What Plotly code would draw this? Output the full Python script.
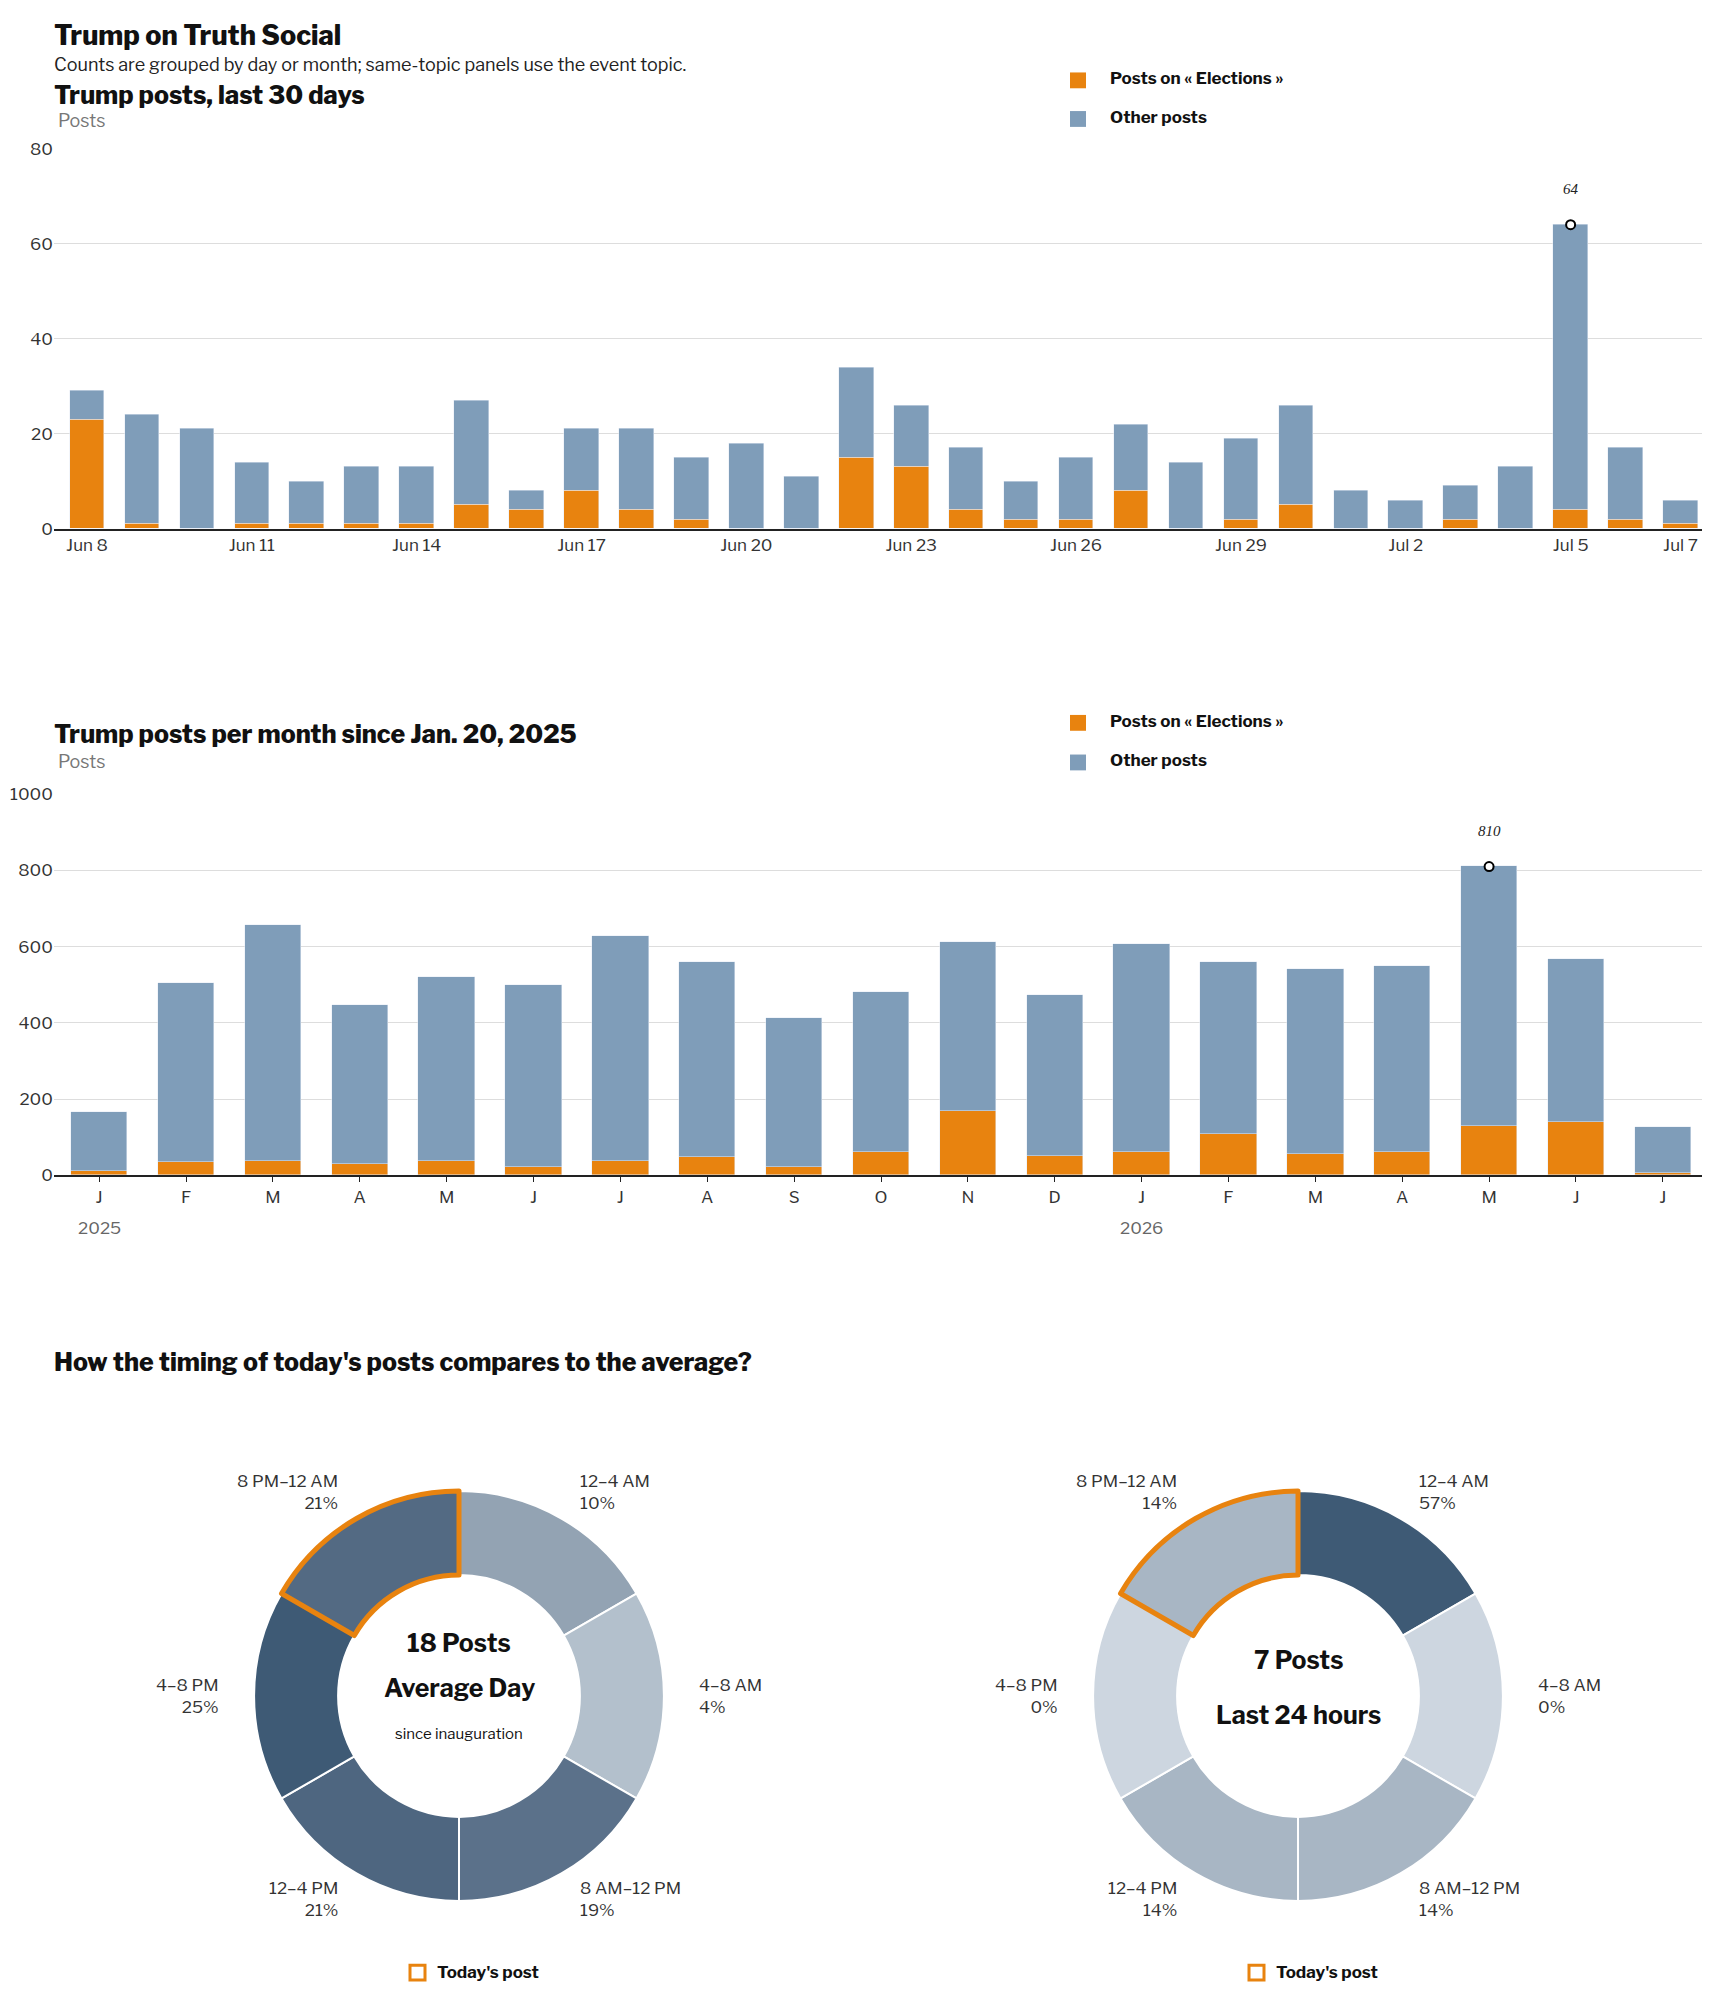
import plotly.graph_objects as go

W, H = 1710, 1993
S = 1710 / 1350
ORANGE = "#e8830f"
BLUE = "#7f9db9"
FONT = "Libre Franklin, Inter, Roboto, sans-serif"

days = ["Jun 8","Jun 9","Jun 10","Jun 11","Jun 12","Jun 13","Jun 14","Jun 15","Jun 16","Jun 17",
        "Jun 18","Jun 19","Jun 20","Jun 21","Jun 22","Jun 23","Jun 24","Jun 25","Jun 26","Jun 27",
        "Jun 28","Jun 29","Jun 30","Jul 1","Jul 2","Jul 3","Jul 4","Jul 5","Jul 6","Jul 7"]
day_total = [29,24,21,14,10,13,13,27,8,21,21,15,18,11,34,26,17,10,15,22,14,19,26,8,6,9,13,64,17,6]
day_elect = [23,1,0,1,1,1,1,5,4,8,4,2,0,0,15,13,4,2,2,8,0,2,5,0,0,2,0,4,2,1]
day_ticks = ["Jun 8","Jun 11","Jun 14","Jun 17","Jun 20","Jun 23","Jun 26","Jun 29","Jul 2","Jul 5","Jul 7"]

months = ["J","F","M","A","M","J","J","A","S","O","N","D","J","F","M","A","M","J","J"]
mon_total = [165,505,655,447,520,500,628,560,413,480,612,473,607,558,540,550,810,568,125]
mon_elect = [10,35,38,28,38,22,38,48,22,62,168,50,62,108,55,62,128,140,5]
years = [(0, "2025"), (12, "2026")]

slots = ["12–4 AM","4–8 AM","8 AM–12 PM","12–4 PM","4–8 PM","8 PM–12 AM"]
avg_pct = [10,4,19,21,25,21]
avg_colors = ["#93a3b3","#b3c0cc","#5b718a","#4e6680","#3e5a75","#536a83"]
today_pct = [57,0,14,14,0,14]
today_colors = ["#3e5a75","#cdd6e0","#a8b6c4","#a8b6c4","#cdd6e0","#a8b6c4"]
today_slot = 5

def py(p): return 1 - p / H
def px(p): return p / W

fig = go.Figure()
di = list(range(len(days)))
fig.add_bar(x=di, y=day_elect, marker_color=ORANGE, width=0.63, xaxis="x", yaxis="y")
fig.add_bar(x=di, y=[t - e for t, e in zip(day_total, day_elect)], marker_color=BLUE, width=0.63, xaxis="x", yaxis="y")
mi = list(range(len(months)))
fig.add_bar(x=mi, y=mon_elect, marker_color=ORANGE, width=0.65, xaxis="x2", yaxis="y2")
fig.add_bar(x=mi, y=[t - e for t, e in zip(mon_total, mon_elect)], marker_color=BLUE, width=0.65, xaxis="x2", yaxis="y2")

dmax = day_total.index(max(day_total)); mmax = mon_total.index(max(mon_total))
fig.add_scatter(x=[dmax], y=[day_total[dmax]], mode="markers", xaxis="x", yaxis="y",
                marker=dict(size=9, color="white", line=dict(color="black", width=2)))
fig.add_scatter(x=[mmax], y=[mon_total[mmax]], mode="markers", xaxis="x2", yaxis="y2",
                marker=dict(size=9, color="white", line=dict(color="black", width=2)))
ann = []
ann.append(dict(x=dmax, y=day_total[dmax], xref="x", yref="y", text=str(day_total[dmax]), showarrow=False,
                yshift=36, font=dict(family="Liberation Serif", size=15, color="#222", style="italic")))
ann.append(dict(x=mmax, y=mon_total[mmax], xref="x2", yref="y2", text=str(mon_total[mmax]), showarrow=False,
                yshift=36, font=dict(family="Liberation Serif", size=15, color="#222", style="italic")))

for i, lab in years:
    ann.append(dict(x=i, y=py(1222), xref="x2", yref="paper", text=lab, showarrow=False,
                    font=dict(family=FONT, size=17, color="#666")))

def t(xp, yp, text, size, color="#111", weight=None, ya="middle"):
    ann.append(dict(x=px(xp), y=py(yp), xref="paper", yref="paper", text=text, showarrow=False,
                    xanchor="left", yanchor=ya, borderpad=0,
                    font=dict(family=FONT, size=size, color=color, weight=weight)))

# donuts
CY = 1695
for k, (vals, cols, cx) in enumerate([(avg_pct, avg_colors, 451), (today_pct, today_colors, 1290)]):
    lc = ["white"] * 6; lw = [2] * 6
    lc[today_slot] = ORANGE; lw[today_slot] = 5
    fig.add_pie(values=[1] * 6, labels=slots, marker=dict(colors=cols, line=dict(color=lc, width=lw)),
                hole=0.59, sort=False, direction="clockwise", rotation=0, textinfo="none",
                showlegend=False, domain=dict(x=[px(cx - 207), px(cx + 207)], y=[py(CY + 207), py(CY - 207)]))
    offs = [(94, -163, "left"), (188, 0, "left"), (94, 162, "left"),
            (-94, 162, "right"), (-188, 0, "right"), (-94, -163, "right")]
    for j, (dx, dy, xa) in enumerate(offs):
        ann.append(dict(x=px(cx + dx * S), y=py(CY + dy * S), xref="paper", yref="paper",
                        text=f"{slots[j]}<br>{vals[j]}%", showarrow=False, xanchor=xa, align=xa, yanchor="middle",
                        font=dict(family=FONT, size=17, color="#333")))
    fig.add_shape(type="rect", xref="paper", yref="paper", x0=px(cx - 49), x1=px(cx - 34),
                  y0=py(1982), y1=py(1967), line=dict(color=ORANGE, width=3), fillcolor="white")
    ann.append(dict(x=px(cx - 24), y=py(1974), xref="paper", yref="paper", text="<b>Today's post</b>",
                    showarrow=False, xanchor="left", yanchor="middle", font=dict(family=FONT, size=17, color="#111")))

t(45, 0, "Trump on Truth Social", 27, weight=800, ya="top")
t(45, 47, "Counts are grouped by day or month; same-topic panels use the event topic.", 18, "#222")
t(45, 78, "Trump posts, last 30 days", 25, weight=800)
t(49, 104, "Posts", 18, "#777")
t(45, 723, "Trump posts per month since Jan. 20, 2025", 25, weight=800)
t(49, 751, "Posts", 18, "#777")
t(45, 1358, "How the timing of today's posts compares to the average?", 25, weight=800)
for ly, ly2 in ((63, 102), (712, 752)):
    for yy, col, lab in [(ly, ORANGE, "Posts on « Elections »"), (ly2, BLUE, "Other posts")]:
        fig.add_shape(type="rect", xref="paper", yref="paper", x0=px(1062), x1=px(1078),
                      y0=py(yy + 8), y1=py(yy - 8), line=dict(width=0), fillcolor=col)
        t(1101, yy - 2, f"<b>{lab}</b>", 17)

for cx, lines in [(451, [("<b>18 Posts</b>", 1641, 25), ("<b>Average Day</b>", 1687, 25), ("since inauguration", 1733, 15)]),
                  (1290, [("<b>7 Posts</b>", 1659, 25), ("<b>Last 24 hours</b>", 1714, 25)])]:
    for txt, yy, sz in lines:
        ann.append(dict(x=px(cx), y=py(yy), xref="paper", yref="paper", text=txt, showarrow=False,
                        xanchor="center", yanchor="middle", font=dict(family=FONT, size=sz, color="#111")))

axfont = dict(family=FONT, size=17, color="#333")
fig.update_layout(
    width=W, height=H, autosize=False, margin=dict(l=0, r=0, t=0, b=0),
    paper_bgcolor="white", plot_bgcolor="white", barmode="stack", showlegend=False, bargap=0,
    annotations=ann,
    xaxis=dict(domain=[px(46), px(1700)], anchor="y", range=[-0.6, 29.5],
               tickvals=[days.index(d) for d in day_ticks], ticktext=day_ticks, tickfont=axfont,
               showline=True, linecolor="#222", linewidth=2, ticks="", showgrid=False),
    yaxis=dict(domain=[py(516), py(132)], anchor="x", range=[0, 80], dtick=20, tickfont=axfont,
               gridcolor="#dddddd", zeroline=False, showline=False),
    xaxis2=dict(domain=[px(46), px(1700)], anchor="y2", range=[-0.52, 18.52],
                tickvals=mi, ticktext=months, tickfont=axfont,
                showline=True, linecolor="#222", linewidth=2, ticks="outside", ticklen=5, tickcolor="#222", showgrid=False),
    yaxis2=dict(domain=[py(1169), py(784)], anchor="x2", range=[0, 1000], dtick=200, tickfont=axfont,
                gridcolor="#dddddd", zeroline=False, showline=False),
)
fig.write_html("out.html")
